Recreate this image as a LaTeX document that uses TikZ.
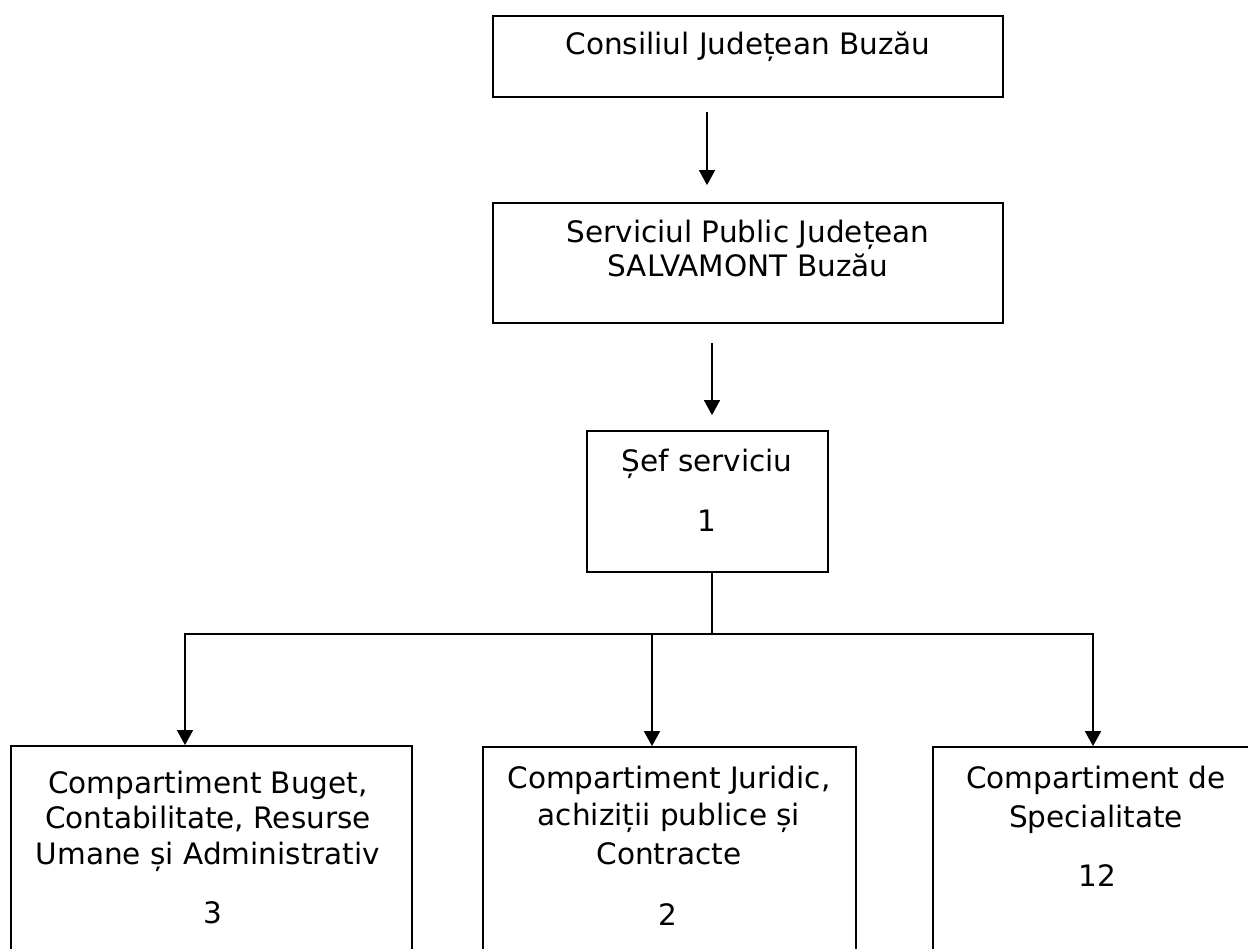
\documentclass[tikz,border=0pt]{standalone}
\usepackage{fontspec}
\setmainfont{DejaVu Sans}
\usetikzlibrary{arrows.meta,fit,calc}
\begin{document}
\begin{tikzpicture}[x=0.02cm,y=-0.02cm,
  box/.style={draw, line width=1pt, inner sep=0pt},
  ln/.style={anchor=base, inner sep=0pt, font=\fontsize{16.8}{20}\selectfont},
  arr/.style={draw, line width=1.1pt, -{Triangle[width=9pt,length=8.5pt]}},
  wire/.style={draw, line width=1.1pt, line cap=rect}]
\useasboundingbox (0,0) rectangle (1248,949);
\clip (0,0) rectangle (1248,949);

% boxes
\node[box, fit={(493,16)(1003,97)}] (b1) {};
\node[box, fit={(493,203)(1003,323)}] (b2) {};
\node[box, fit={(587,431)(828,572)}] (b3) {};
\node[box, fit={(11,746)(412,1010)}] (b4) {};
\node[box, fit={(483,747)(856,1010)}] (b5) {};
\node[box, fit={(933,747)(1265,1010)}] (b6) {};

% texts
\node[ln] (t1) at (748,55) {Consiliul Județean Buzău};
\node[ln] (t2a) at (748,243) {Serviciul Public Județean};
\node[ln] (t2b) at (748,277) {SALVAMONT Buzău};
\node[ln] (t3a) at (707,472) {Șef serviciu};
\node[ln] (t3b) at (707,531) {1};
\node[ln] (t4a) at (208,793) {Compartiment Buget,};
\node[ln] (t4b) at (208,828) {Contabilitate, Resurse};
\node[ln] (t4c) at (208,864) {Umane și Administrativ};
\node[ln] (t4d) at (213,923) {3};
\node[ln] (t5a) at (669,788) {Compartiment Juridic,};
\node[ln] (t5b) at (669,825) {achiziții publice și};
\node[ln] (t5c) at (669,864) {Contracte};
\node[ln] (t5d) at (668,925) {2};
\node[ln] (t6a) at (1096,788) {Compartiment de};
\node[ln] (t6b) at (1096,827) {Specialitate};
\node[ln] (t6c) at (1097,886) {12};

% connectors
\coordinate (a1) at (707,112);
\draw[arr] (a1) -- ($(a1 |- b2.north)+(0,-17)$);
\coordinate (a2) at (712,343);
\draw[arr] (a2) -- ($(a2 |- b3.north)+(0,-15)$);
\coordinate (j) at (712,634);
\coordinate (hl) at (185,634);
\coordinate (hm) at (652,634);
\coordinate (hr) at (1093,634);
\draw[wire] (j |- b3.south) -- (j);
\draw[wire] (hl) -- (hr);
\draw[arr] (hl) -- (hl |- b4.north);
\draw[arr] (hm) -- (hm |- b5.north);
\draw[arr] (hr) -- (hr |- b6.north);
\end{tikzpicture}
\end{document}
